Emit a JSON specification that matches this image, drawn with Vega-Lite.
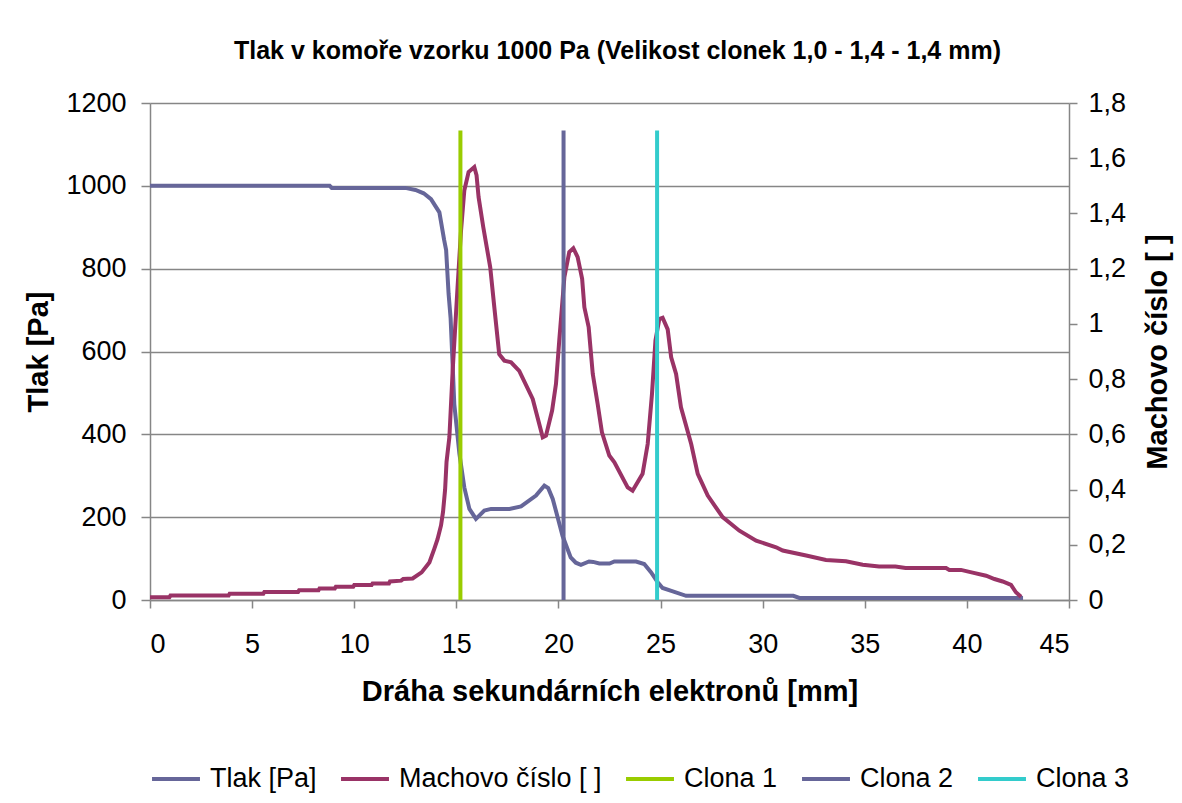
{
  "$schema": "https://vega.github.io/schema/vega-lite/v6.json",
  "width": 919,
  "height": 497,
  "autosize": {"type": "none"},
  "padding": {"left": 150, "top": 103, "right": 113, "bottom": 203},
  "background": "white",
  "title": {
    "text": "Tlak v komoře vzorku 1000 Pa (Velikost clonek 1,0 - 1,4 - 1,4 mm)",
    "font": "Liberation Sans",
    "fontSize": 25,
    "fontWeight": "bold",
    "color": "black",
    "anchor": "middle",
    "dx": 8,
    "offset": 25
  },
  "config": {
    "view": {"stroke": null},
    "font": "Liberation Sans",
    "axis": {
      "labelFont": "Liberation Sans",
      "labelFontSize": 27,
      "labelColor": "black",
      "titleFont": "Liberation Sans",
      "titleFontSize": 29,
      "titleFontWeight": "bold",
      "titleColor": "black",
      "domainColor": "#868686",
      "tickColor": "#868686",
      "gridColor": "#868686",
      "domainWidth": 1.5,
      "tickWidth": 1.5,
      "gridWidth": 1.5
    },
    "legend": {
      "labelFont": "Liberation Sans",
      "labelFontSize": 27,
      "labelColor": "black",
      "labelLimit": 400
    }
  },
  "data": {
    "values": [
      {"s": "Tlak [Pa]", "x": 0, "v": 1000},
      {"s": "Tlak [Pa]", "x": 8.8, "v": 1000},
      {"s": "Tlak [Pa]", "x": 8.9, "v": 995},
      {"s": "Tlak [Pa]", "x": 12.5, "v": 995},
      {"s": "Tlak [Pa]", "x": 13.0, "v": 990},
      {"s": "Tlak [Pa]", "x": 13.4, "v": 982},
      {"s": "Tlak [Pa]", "x": 13.76, "v": 968},
      {"s": "Tlak [Pa]", "x": 14.17, "v": 936},
      {"s": "Tlak [Pa]", "x": 14.4, "v": 870},
      {"s": "Tlak [Pa]", "x": 14.5, "v": 845},
      {"s": "Tlak [Pa]", "x": 14.62, "v": 740},
      {"s": "Tlak [Pa]", "x": 14.72, "v": 680},
      {"s": "Tlak [Pa]", "x": 14.8, "v": 590},
      {"s": "Tlak [Pa]", "x": 14.9, "v": 473},
      {"s": "Tlak [Pa]", "x": 15.15, "v": 353},
      {"s": "Tlak [Pa]", "x": 15.39, "v": 272},
      {"s": "Tlak [Pa]", "x": 15.64, "v": 220},
      {"s": "Tlak [Pa]", "x": 15.96, "v": 196},
      {"s": "Tlak [Pa]", "x": 16.37, "v": 216},
      {"s": "Tlak [Pa]", "x": 16.7, "v": 220},
      {"s": "Tlak [Pa]", "x": 17.6, "v": 220},
      {"s": "Tlak [Pa]", "x": 18.17, "v": 226},
      {"s": "Tlak [Pa]", "x": 18.9, "v": 252},
      {"s": "Tlak [Pa]", "x": 19.31, "v": 276},
      {"s": "Tlak [Pa]", "x": 19.5, "v": 270},
      {"s": "Tlak [Pa]", "x": 19.72, "v": 244},
      {"s": "Tlak [Pa]", "x": 19.96, "v": 200},
      {"s": "Tlak [Pa]", "x": 20.2, "v": 155},
      {"s": "Tlak [Pa]", "x": 20.6, "v": 103},
      {"s": "Tlak [Pa]", "x": 20.85, "v": 90},
      {"s": "Tlak [Pa]", "x": 21.1, "v": 85},
      {"s": "Tlak [Pa]", "x": 21.5, "v": 93},
      {"s": "Tlak [Pa]", "x": 21.7, "v": 92},
      {"s": "Tlak [Pa]", "x": 22.0, "v": 88},
      {"s": "Tlak [Pa]", "x": 22.5, "v": 88},
      {"s": "Tlak [Pa]", "x": 22.74, "v": 93},
      {"s": "Tlak [Pa]", "x": 23.8, "v": 93},
      {"s": "Tlak [Pa]", "x": 24.2, "v": 87},
      {"s": "Tlak [Pa]", "x": 24.53, "v": 67},
      {"s": "Tlak [Pa]", "x": 24.86, "v": 43},
      {"s": "Tlak [Pa]", "x": 25.1, "v": 29},
      {"s": "Tlak [Pa]", "x": 25.6, "v": 21},
      {"s": "Tlak [Pa]", "x": 26.25, "v": 10},
      {"s": "Tlak [Pa]", "x": 31.5, "v": 10},
      {"s": "Tlak [Pa]", "x": 31.8, "v": 5},
      {"s": "Tlak [Pa]", "x": 42.75, "v": 5},
      {"s": "Machovo číslo [ ]", "x": 0, "v": 0.01},
      {"s": "Machovo číslo [ ]", "x": 0.95, "v": 0.01},
      {"s": "Machovo číslo [ ]", "x": 1.0, "v": 0.016},
      {"s": "Machovo číslo [ ]", "x": 3.85, "v": 0.016},
      {"s": "Machovo číslo [ ]", "x": 3.9, "v": 0.023},
      {"s": "Machovo číslo [ ]", "x": 5.55, "v": 0.023},
      {"s": "Machovo číslo [ ]", "x": 5.6, "v": 0.029},
      {"s": "Machovo číslo [ ]", "x": 7.25, "v": 0.029},
      {"s": "Machovo číslo [ ]", "x": 7.3, "v": 0.035},
      {"s": "Machovo číslo [ ]", "x": 8.25, "v": 0.035},
      {"s": "Machovo číslo [ ]", "x": 8.3, "v": 0.042},
      {"s": "Machovo číslo [ ]", "x": 9.05, "v": 0.042},
      {"s": "Machovo číslo [ ]", "x": 9.1, "v": 0.048},
      {"s": "Machovo číslo [ ]", "x": 9.95, "v": 0.048},
      {"s": "Machovo číslo [ ]", "x": 10.0, "v": 0.054},
      {"s": "Machovo číslo [ ]", "x": 10.85, "v": 0.054},
      {"s": "Machovo číslo [ ]", "x": 10.9, "v": 0.06},
      {"s": "Machovo číslo [ ]", "x": 11.7, "v": 0.06},
      {"s": "Machovo číslo [ ]", "x": 11.75, "v": 0.067},
      {"s": "Machovo číslo [ ]", "x": 12.3, "v": 0.07},
      {"s": "Machovo číslo [ ]", "x": 12.4, "v": 0.076},
      {"s": "Machovo číslo [ ]", "x": 12.86, "v": 0.078},
      {"s": "Machovo číslo [ ]", "x": 13.3, "v": 0.1},
      {"s": "Machovo číslo [ ]", "x": 13.68, "v": 0.136},
      {"s": "Machovo číslo [ ]", "x": 13.92, "v": 0.185},
      {"s": "Machovo číslo [ ]", "x": 14.08, "v": 0.22},
      {"s": "Machovo číslo [ ]", "x": 14.25, "v": 0.27},
      {"s": "Machovo číslo [ ]", "x": 14.35, "v": 0.32},
      {"s": "Machovo číslo [ ]", "x": 14.45, "v": 0.4},
      {"s": "Machovo číslo [ ]", "x": 14.52, "v": 0.5},
      {"s": "Machovo číslo [ ]", "x": 14.66, "v": 0.59},
      {"s": "Machovo číslo [ ]", "x": 14.82, "v": 0.83},
      {"s": "Machovo číslo [ ]", "x": 15.06, "v": 1.133},
      {"s": "Machovo číslo [ ]", "x": 15.23, "v": 1.338},
      {"s": "Machovo číslo [ ]", "x": 15.39, "v": 1.483},
      {"s": "Machovo číslo [ ]", "x": 15.6, "v": 1.55},
      {"s": "Machovo číslo [ ]", "x": 15.88, "v": 1.568},
      {"s": "Machovo číslo [ ]", "x": 15.99, "v": 1.538},
      {"s": "Machovo číslo [ ]", "x": 16.09, "v": 1.459},
      {"s": "Machovo číslo [ ]", "x": 16.32, "v": 1.35},
      {"s": "Machovo číslo [ ]", "x": 16.66, "v": 1.205},
      {"s": "Machovo číslo [ ]", "x": 16.86, "v": 1.06},
      {"s": "Machovo číslo [ ]", "x": 17.1, "v": 0.89},
      {"s": "Machovo číslo [ ]", "x": 17.35, "v": 0.867},
      {"s": "Machovo číslo [ ]", "x": 17.68, "v": 0.861},
      {"s": "Machovo číslo [ ]", "x": 18.08, "v": 0.83},
      {"s": "Machovo číslo [ ]", "x": 18.74, "v": 0.728},
      {"s": "Machovo číslo [ ]", "x": 19.23, "v": 0.589},
      {"s": "Machovo číslo [ ]", "x": 19.39, "v": 0.595},
      {"s": "Machovo číslo [ ]", "x": 19.69, "v": 0.686},
      {"s": "Machovo číslo [ ]", "x": 19.88, "v": 0.783},
      {"s": "Machovo číslo [ ]", "x": 20.04, "v": 0.94},
      {"s": "Machovo číslo [ ]", "x": 20.29, "v": 1.169},
      {"s": "Machovo číslo [ ]", "x": 20.53, "v": 1.26},
      {"s": "Machovo číslo [ ]", "x": 20.73, "v": 1.274},
      {"s": "Machovo číslo [ ]", "x": 20.94, "v": 1.242},
      {"s": "Machovo číslo [ ]", "x": 21.16, "v": 1.163},
      {"s": "Machovo číslo [ ]", "x": 21.27, "v": 1.06},
      {"s": "Machovo číslo [ ]", "x": 21.48, "v": 0.988},
      {"s": "Machovo číslo [ ]", "x": 21.68, "v": 0.819},
      {"s": "Machovo číslo [ ]", "x": 21.92, "v": 0.71},
      {"s": "Machovo číslo [ ]", "x": 22.13, "v": 0.607},
      {"s": "Machovo číslo [ ]", "x": 22.49, "v": 0.523},
      {"s": "Machovo číslo [ ]", "x": 22.74, "v": 0.499},
      {"s": "Machovo číslo [ ]", "x": 23.39, "v": 0.408},
      {"s": "Machovo číslo [ ]", "x": 23.63, "v": 0.396},
      {"s": "Machovo číslo [ ]", "x": 24.12, "v": 0.457},
      {"s": "Machovo číslo [ ]", "x": 24.37, "v": 0.565},
      {"s": "Machovo číslo [ ]", "x": 24.58, "v": 0.746},
      {"s": "Machovo číslo [ ]", "x": 24.75, "v": 0.94},
      {"s": "Machovo číslo [ ]", "x": 24.94, "v": 1.018},
      {"s": "Machovo číslo [ ]", "x": 25.1, "v": 1.022},
      {"s": "Machovo číslo [ ]", "x": 25.35, "v": 0.98},
      {"s": "Machovo číslo [ ]", "x": 25.52, "v": 0.879},
      {"s": "Machovo číslo [ ]", "x": 25.76, "v": 0.819},
      {"s": "Machovo číslo [ ]", "x": 26.0, "v": 0.698},
      {"s": "Machovo číslo [ ]", "x": 26.5, "v": 0.565},
      {"s": "Machovo číslo [ ]", "x": 26.82, "v": 0.457},
      {"s": "Machovo číslo [ ]", "x": 27.31, "v": 0.378},
      {"s": "Machovo číslo [ ]", "x": 28.04, "v": 0.3},
      {"s": "Machovo číslo [ ]", "x": 28.86, "v": 0.251},
      {"s": "Machovo číslo [ ]", "x": 29.68, "v": 0.215},
      {"s": "Machovo číslo [ ]", "x": 30.66, "v": 0.191},
      {"s": "Machovo číslo [ ]", "x": 30.98, "v": 0.179},
      {"s": "Machovo číslo [ ]", "x": 32.13, "v": 0.161},
      {"s": "Machovo číslo [ ]", "x": 33.1, "v": 0.145},
      {"s": "Machovo číslo [ ]", "x": 34.08, "v": 0.14},
      {"s": "Machovo číslo [ ]", "x": 34.9, "v": 0.128},
      {"s": "Machovo číslo [ ]", "x": 35.7, "v": 0.121},
      {"s": "Machovo číslo [ ]", "x": 36.5, "v": 0.121},
      {"s": "Machovo číslo [ ]", "x": 37.0, "v": 0.116},
      {"s": "Machovo číslo [ ]", "x": 38.98, "v": 0.116},
      {"s": "Machovo číslo [ ]", "x": 39.14, "v": 0.109},
      {"s": "Machovo číslo [ ]", "x": 39.71, "v": 0.109},
      {"s": "Machovo číslo [ ]", "x": 40.28, "v": 0.099},
      {"s": "Machovo číslo [ ]", "x": 40.94, "v": 0.088},
      {"s": "Machovo číslo [ ]", "x": 41.35, "v": 0.076},
      {"s": "Machovo číslo [ ]", "x": 41.75, "v": 0.067},
      {"s": "Machovo číslo [ ]", "x": 42.16, "v": 0.055},
      {"s": "Machovo číslo [ ]", "x": 42.4, "v": 0.028},
      {"s": "Machovo číslo [ ]", "x": 42.65, "v": 0.012},
      {"s": "Clona 1", "x": 15.2, "v": 0},
      {"s": "Clona 1", "x": 15.2, "v": 1.7},
      {"s": "Clona 2", "x": 20.25, "v": 0},
      {"s": "Clona 2", "x": 20.25, "v": 1.7},
      {"s": "Clona 3", "x": 24.83, "v": 0},
      {"s": "Clona 3", "x": 24.83, "v": 1.7}
    ]
  },
  "layer": [
    {
      "transform": [{"filter": "datum.s === 'Tlak [Pa]'"}],
      "mark": {"type": "line", "strokeWidth": 4},
      "encoding": {
        "x": {
          "field": "x", "type": "quantitative",
          "scale": {"domain": [0, 45], "nice": false},
          "axis": {
            "title": "Dráha sekundárních elektronů [mm]",
            "values": [0, 5, 10, 15, 20, 25, 30, 35, 40, 45],
            "grid": false,
            "tickSize": 8,
            "labelPadding": 23,
            "titlePadding": 20
          }
        },
        "y": {
          "field": "v", "type": "quantitative",
          "scale": {"domain": [0, 1200], "nice": false},
          "axis": {
            "title": "Tlak [Pa]",
            "values": [0, 200, 400, 600, 800, 1000, 1200],
            "format": "d",
            "grid": true,
            "tickSize": 9,
            "labelPadding": 15,
            "titlePadding": 12
          }
        },
        "color": {
          "field": "s", "type": "nominal",
          "scale": {
            "domain": ["Tlak [Pa]", "Machovo číslo [ ]", "Clona 1", "Clona 2", "Clona 3"],
            "range": ["#666699", "#993366", "#99CC00", "#666699", "#33CCCC"]
          },
          "legend": {
            "title": null,
            "orient": "none",
            "legendX": 0,
            "legendY": 650,
            "direction": "horizontal",
            "symbolType": "stroke",
            "symbolSize": 2300,
            "symbolStrokeWidth": 4,
            "labelOffset": 8,
            "columnPadding": 16
          }
        }
      }
    },
    {
      "transform": [{"filter": "datum.s !== 'Tlak [Pa]'"}],
      "mark": {"type": "line", "strokeWidth": 4},
      "encoding": {
        "x": {"field": "x", "type": "quantitative"},
        "y": {
          "field": "v", "type": "quantitative",
          "scale": {"domain": [0, 1.8], "nice": false},
          "axis": {
            "orient": "right",
            "title": "Machovo číslo [ ]",
            "titleAngle": 270,
            "titleBaseline": "top",
            "values": [0, 0.2, 0.4, 0.6, 0.8, 1, 1.2, 1.4, 1.6, 1.8],
            "labelExpr": "replace(format(datum.value, '.1~f'), '.', ',')",
            "grid": false,
            "tickSize": 8,
            "labelPadding": 11,
            "titlePadding": 18
          }
        },
        "color": {"field": "s", "type": "nominal"}
      }
    }
  ],
  "resolve": {"scale": {"y": "independent"}}
}
